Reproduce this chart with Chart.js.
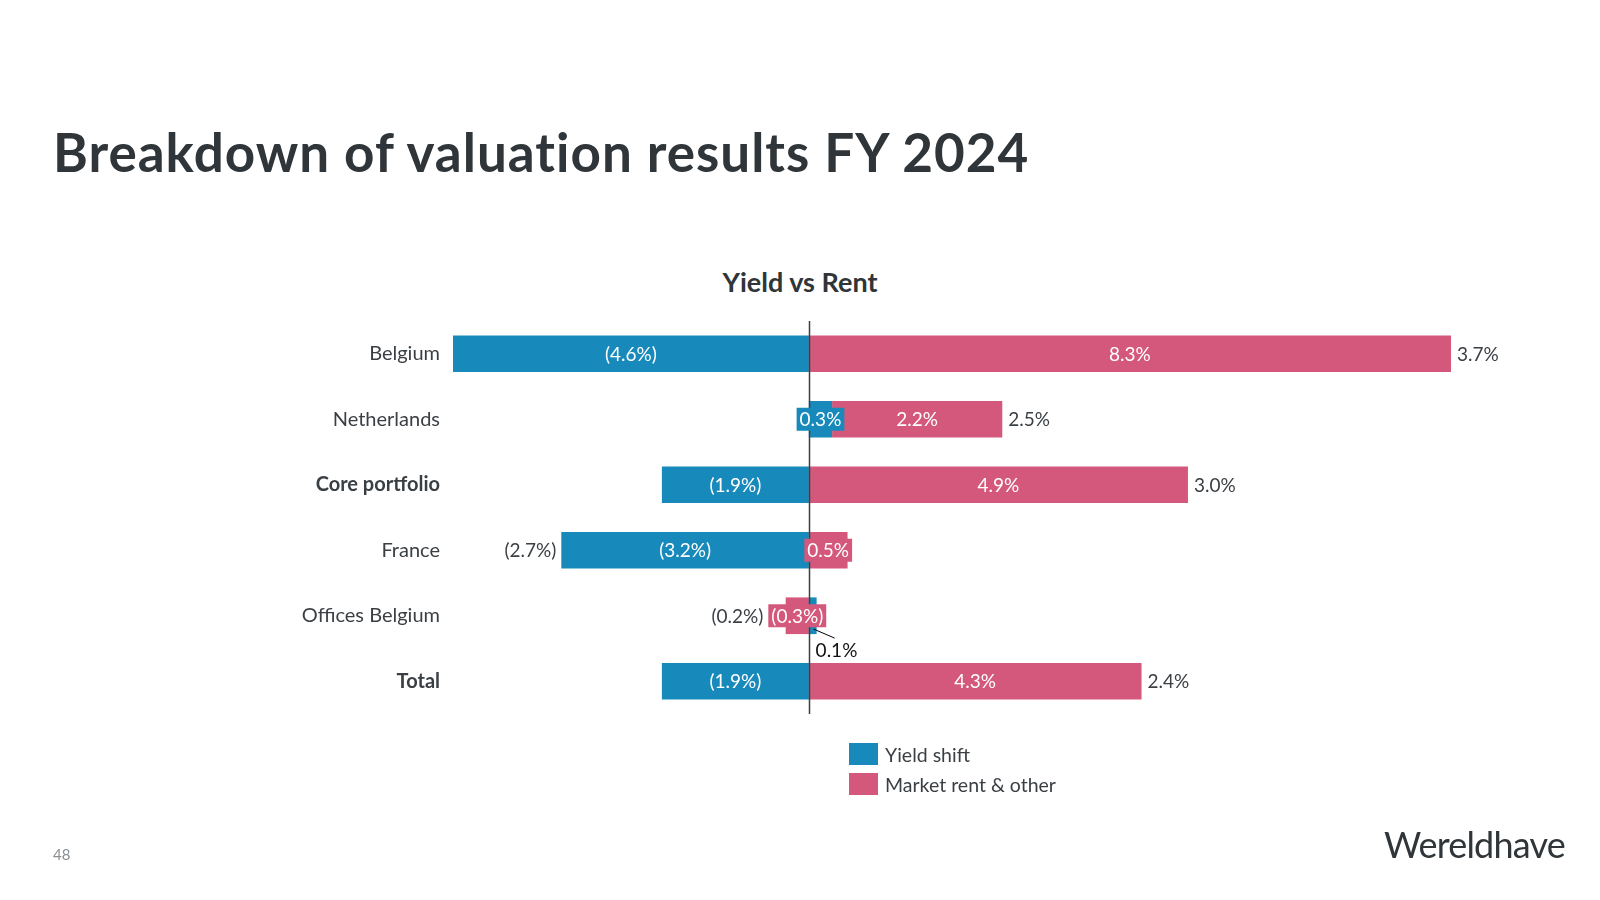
<!DOCTYPE html>
<html>
<head>
<meta charset="utf-8">
<script src="https://cdn.jsdelivr.net/npm/chart.js@4.4.1/dist/chart.umd.min.js"></script>
<style>
  html, body { margin: 0; padding: 0; background: #ffffff; }
  body { width: 1600px; height: 900px; position: relative; overflow: hidden; font-family: Lato, "Open Sans", sans-serif; color: #33393c; }
  #title { position: absolute; left: 53px; top: 125px; margin: 0; font-size: 53px; line-height: 53px; font-weight: 700; color: #2f3538; letter-spacing: 1px; white-space: nowrap; }
  #subtitle { position: absolute; left: 0; width: 1600px; top: 267px; text-align: center; font-size: 27px; line-height: 30px; font-weight: 700; color: #2f3538; }
  #chartCanvas { position: absolute; left: 0; top: 0; }
  #legend { position: absolute; left: 849px; top: 739px; }
  .leg-item { display: flex; align-items: center; height: 30px; font-size: 19.5px; color: #3a3f44; }
  .leg-box { width: 29px; height: 22px; margin-right: 7px; }
  #page { position: absolute; left: 53px; top: 845px; font-size: 15px; color: #8a8f93; }
  #logo { position: absolute; left: 1384px; top: 822px; font-size: 36px; line-height: 44px; font-weight: 400; color: #2f3538; letter-spacing: -0.8px; }
</style>
</head>
<body>
<h1 id="title">Breakdown of valuation results FY 2024</h1>
<div id="subtitle">Yield vs Rent</div>
<canvas id="chartCanvas" width="1600" height="900"></canvas>
<div id="legend"></div>
<div id="page">48</div>
<div id="logo">Wereldhave</div>
<script>
// ---- data ----
const categories = ['Belgium', 'Netherlands', 'Core portfolio', 'France', 'Offices Belgium', 'Total'];
const boldCategories = ['Core portfolio', 'Total'];
const yieldShift = [-4.6, 0.3, -1.9, -3.2, 0.1, -1.9];
const marketRent = [8.3, 2.2, 4.9, 0.5, -0.3, 4.3];
const netTotals = [3.7, 2.5, 3.0, -2.7, -0.2, 2.4];
const seriesNames = ['Yield shift', 'Market rent & other'];
const seriesColors = ['#1789bb', '#d4587c'];

const FONT = 'Lato, "Open Sans", sans-serif';
function fmt(v) {
  const s = Math.abs(v).toFixed(1) + '%';
  return v < 0 ? '(' + s + ')' : s;
}

const labelPlugin = {
  id: 'valueLabels',
  afterDatasetsDraw(chart) {
    const ctx = chart.ctx;
    const xs = chart.scales.x;
    const area = chart.chartArea;
    // zero line
    const zx = Math.round(xs.getPixelForValue(0)) + 0.5;
    ctx.save();
    ctx.strokeStyle = '#3b3f42';
    ctx.lineWidth = 1.5;
    ctx.beginPath();
    ctx.moveTo(zx, area.top);
    ctx.lineTo(zx, area.bottom);
    ctx.stroke();

    ctx.font = '19px ' + FONT;
    ctx.textBaseline = 'middle';
    const extentsMin = categories.map(() => Infinity);
    const extentsMax = categories.map(() => -Infinity);

    chart.data.datasets.forEach((ds, di) => {
      const meta = chart.getDatasetMeta(di);
      meta.data.forEach((el, i) => {
        const v = ds.data[i];
        const left = Math.min(el.x, el.base), right = Math.max(el.x, el.base);
        const bottom = el.y + el.height / 2;
        extentsMin[i] = Math.min(extentsMin[i], left);
        extentsMax[i] = Math.max(extentsMax[i], right);
        const txt = fmt(v);
        const tw = ctx.measureText(txt).width;
        const w = right - left;
        if (w < 14) {
          // callout label below the bar
          ctx.strokeStyle = '#000';
          ctx.lineWidth = 1;
          ctx.beginPath();
          ctx.moveTo(right - 3, bottom - 5);
          ctx.lineTo(right + 18, bottom + 4);
          ctx.stroke();
          ctx.fillStyle = '#111';
          ctx.textAlign = 'left';
          ctx.textBaseline = 'top';
          ctx.fillText(txt, right - 1, bottom + 7);
          ctx.textBaseline = 'middle';
        } else {
          const cx = (left + right) / 2;
          if (tw + 6 > w) {
            ctx.fillStyle = ds.backgroundColor;
            const bw = tw + 6;
            ctx.fillRect(cx - bw / 2, el.y - 11.5, bw, 23);
            extentsMin[i] = Math.min(extentsMin[i], cx - bw / 2);
            extentsMax[i] = Math.max(extentsMax[i], cx + bw / 2);
          }
          ctx.fillStyle = '#ffffff';
          ctx.textAlign = 'center';
          ctx.fillText(txt, cx, el.y + 1);
        }
      });
    });

    // net totals
    const meta0 = chart.getDatasetMeta(0);
    ctx.fillStyle = '#3a3f44';
    netTotals.forEach((t, i) => {
      const y = meta0.data[i].y + 1;
      const txt = fmt(t);
      if (t >= 0) {
        ctx.textAlign = 'left';
        ctx.fillText(txt, extentsMax[i] + 6, y);
      } else {
        ctx.textAlign = 'right';
        ctx.fillText(txt, extentsMin[i] - 5, y);
      }
    });
    ctx.restore();
  }
};

const chart = new Chart(document.getElementById('chartCanvas'), {
  type: 'bar',
  data: {
    labels: categories,
    datasets: [
      { label: seriesNames[0], data: yieldShift, backgroundColor: seriesColors[0], stack: 's' },
      { label: seriesNames[1], data: marketRent, backgroundColor: seriesColors[1], stack: 's' }
    ]
  },
  options: {
    indexAxis: 'y',
    responsive: false,
    devicePixelRatio: 1,
    animation: false,
    layout: { padding: { top: 321, bottom: 186, left: 0, right: 149 } },
    datasets: { bar: { categoryPercentage: 1, barPercentage: 0.56, borderWidth: 0 } },
    plugins: { legend: { display: false }, tooltip: { enabled: false }, title: { display: false } },
    scales: {
      x: { stacked: true, min: -4.6, max: 8.3, display: false },
      y: {
        stacked: true,
        grid: { display: false, drawTicks: false },
        border: { display: false },
        ticks: {
          padding: 13,
          color: '#3a3f44',
          font: (c) => ({
            family: FONT,
            size: 20,
            weight: boldCategories.includes(categories[c.index]) ? 'bold' : 'normal'
          })
        },
        afterFit(scale) { scale.width = 453; }
      }
    }
  },
  plugins: [labelPlugin]
});

// legend from dataset info
const legendEl = document.getElementById('legend');
chart.data.datasets.forEach(ds => {
  const item = document.createElement('div');
  item.className = 'leg-item';
  const box = document.createElement('div');
  box.className = 'leg-box';
  box.style.background = ds.backgroundColor;
  const lab = document.createElement('span');
  lab.textContent = ds.label;
  item.appendChild(box);
  item.appendChild(lab);
  legendEl.appendChild(item);
});
</script>
</body>
</html>
